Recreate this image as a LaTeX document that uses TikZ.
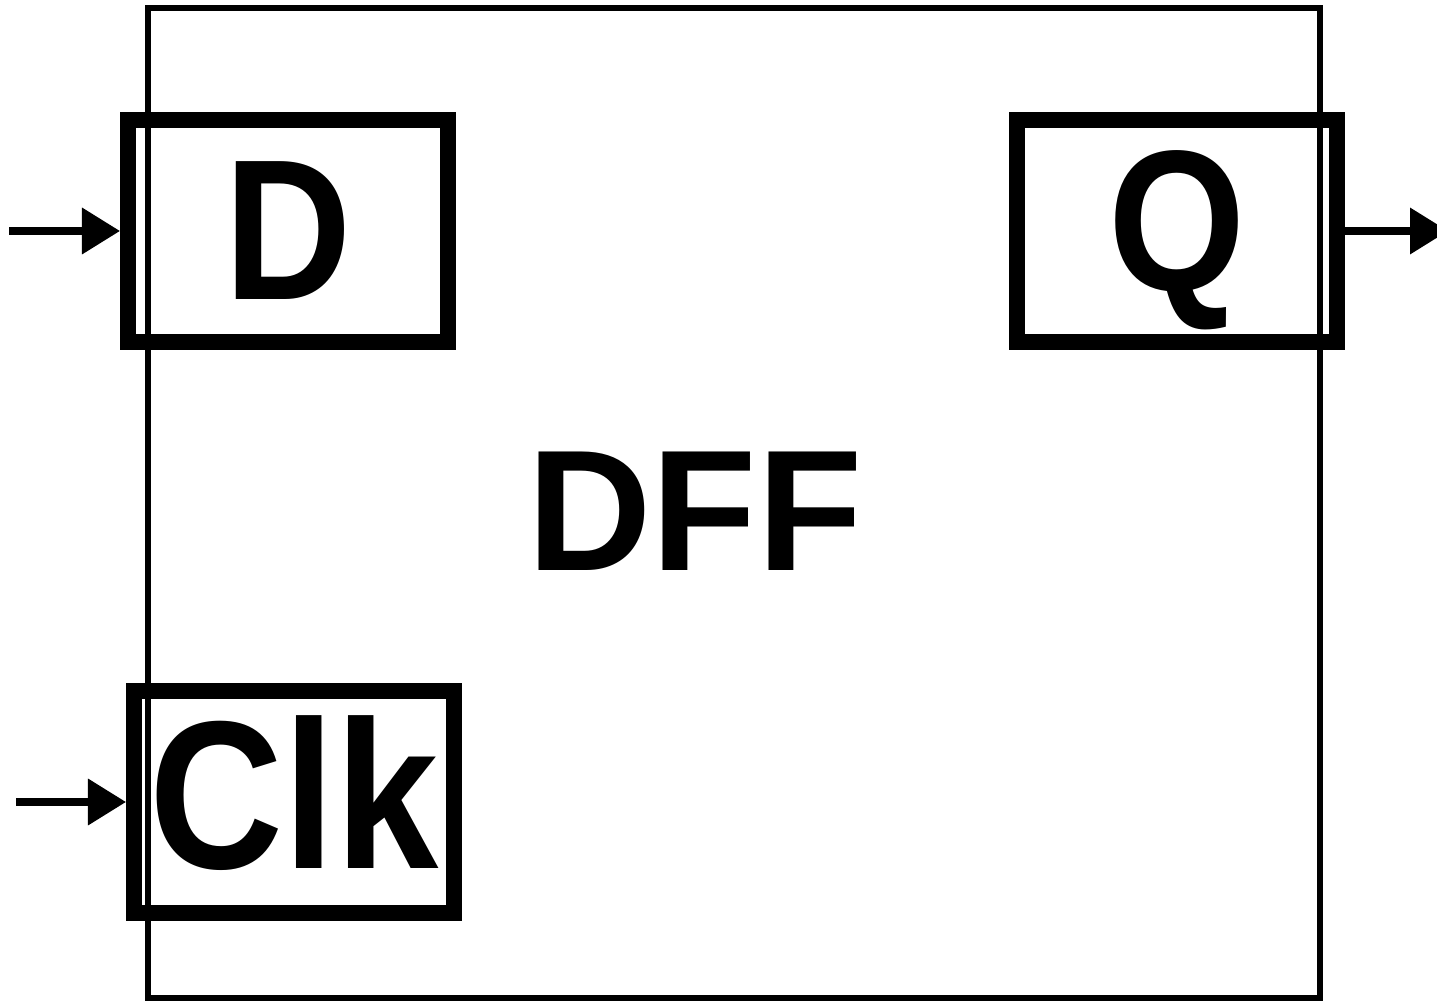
\documentclass[tikz,border=0pt]{standalone}
\usepackage{fontspec}
\setmainfont{Liberation Sans}
\usetikzlibrary{arrows.meta}
\newcommand{\narrowtext}[1]{\scalebox{0.88}[1]{#1}}
\tikzset{
    flipflop/.style={
        x=0.01cm, y=-0.01cm,
        port/.style={draw, line width=4.5pt, inner sep=0pt, text depth=0pt,
            minimum width=3.2cm, minimum height=2.22cm,
            font=\bfseries\fontsize{57}{57}\selectfont},
        wire/.style={line width=2pt, -{Triangle[length=3.8mm, width=4.5mm]}},
    },
}

\begin{document}
\begin{tikzpicture}[flipflop]
            \useasboundingbox (0,0) rectangle (1437,1001);
            \draw[line width=1.7pt] (148,8) rectangle (1320,998);

            \node[port] (d)   at (288,231)  {\narrowtext{D}};
            \node[port, text depth=2mm] (q) at (1177,231) {\narrowtext{Q}};
            \node[port, text depth=2mm, font=\bfseries\fontsize{60}{60}\selectfont] (clk) at (294,802) {\narrowtext{Clk}};
            \node[font=\bfseries\fontsize{49}{49}\selectfont] (name) at (695,511) {DFF};

            \coordinate (din)   at (9,231);
            \coordinate (clkin) at (16,802);
            \coordinate (qout)  at (1448,231);

            \draw[wire] (din) -- (d);
            \draw[wire] (clkin) -- (clk);
            \draw[wire] (q) -- (qout);
        \end{tikzpicture}
\end{document}
